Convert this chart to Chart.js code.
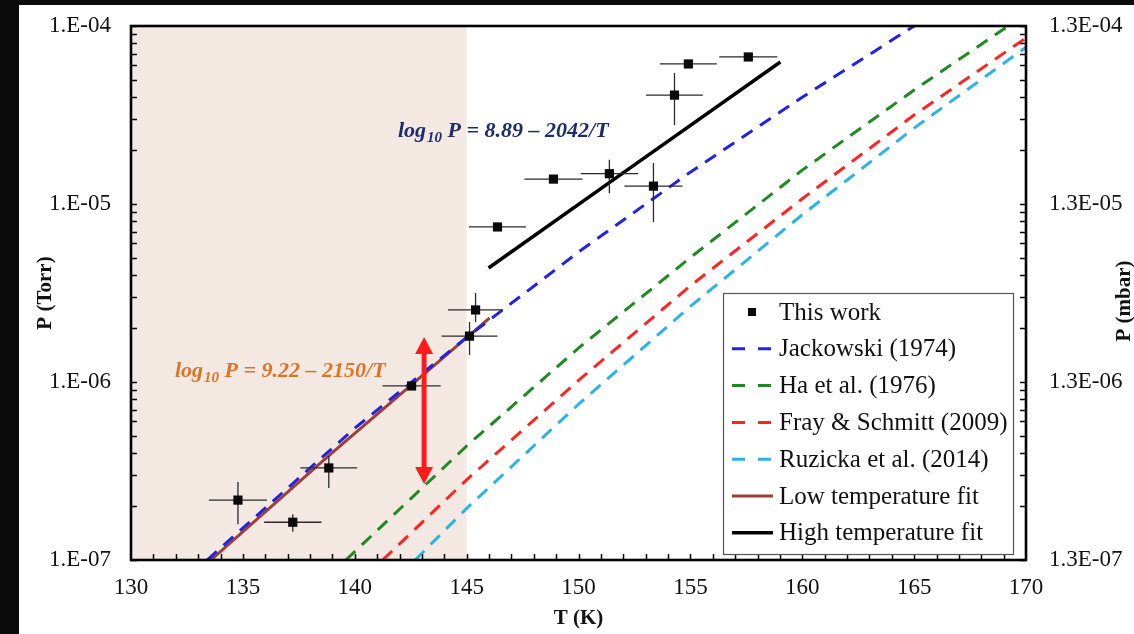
<!DOCTYPE html>
<html>
<head>
<meta charset="utf-8">
<script src="https://cdn.jsdelivr.net/npm/chart.js@4.4.1/dist/chart.umd.min.js"></script>
<style>
  html, body { margin: 0; padding: 0; background: #0b0b0b; }
  #wrap { position: absolute; left: 0; top: 0; width: 1134px; height: 634px; }
  #paper { position: absolute; left: 19px; top: 5px; right: 0; bottom: 0; background: #fff; }
  canvas { position: absolute; left: 0; top: 0; }
</style>
</head>
<body>
<div id="wrap"><div id="paper"></div><canvas id="vpChart" width="1134" height="634"></canvas></div>
<script>
// measured points (This work), P in Torr
const thisWorkT = [134.78, 137.23, 138.84, 142.54, 145.13, 145.4, 146.38, 148.88, 151.38, 153.35, 154.29, 154.91, 157.59];
const thisWorkP = [2.17e-7, 1.63e-7, 3.29e-7, 9.5e-7, 1.81e-6, 2.54e-6, 7.43e-6, 1.38e-5, 1.48e-5, 1.26e-5, 4.09e-5, 6.12e-5, 6.7e-5];
const thisWorkPLow = [1.59e-7, 1.44e-7, 2.54e-7, null, 1.42e-6, 2.17e-6, null, null, 1.15e-5, 7.9e-6, 2.78e-5, null, null];
const thisWorkPHigh = [2.74e-7, 1.81e-7, 3.84e-7, null, 2.17e-6, 3.16e-6, null, null, 1.77e-5, 1.70e-5, 5.44e-5, null, null];
const thisWorkTErr = [1.3, 1.28, 1.27, 1.3, 1.25, 1.23, 1.28, 1.3, 1.28, 1.3, 1.27, 1.27, 1.3];

// literature curves
const jackowskiT = [133.4, 140, 145, 150, 155, 160, 165];
const jackowskiP = [1.0e-7, 5.5e-7, 1.78e-6, 5.37e-6, 1.51e-5, 3.98e-5, 1.0e-4];
const haT = [139.6, 145, 150, 155, 160, 165, 169.2];
const haP = [1.0e-7, 4.37e-7, 1.55e-6, 5.0e-6, 1.55e-5, 4.37e-5, 1.0e-4];
const frayT = [141.25, 145, 150, 155, 160, 165, 170];
const frayP = [1.0e-7, 2.82e-7, 1.02e-6, 3.47e-6, 1.07e-5, 3.16e-5, 8.57e-5];
const ruzickaT = [142.7, 145, 150, 155, 160, 165, 170];
const ruzickaP = [1.0e-7, 1.95e-7, 7.5e-7, 2.66e-6, 8.7e-6, 2.67e-5, 7.6e-5];

// fits
const lowFitT = [133.57, 138.88, 146.03];
const lowFitP = [1.0e-7, 3.89e-7, 2.29e-6];
const highFitT = [145.98, 152.5, 159.02];
const highFitP = [4.37e-6, 1.66e-5, 6.28e-5];

// decade ticks, shaded low-T range, red arrow
const decadeTicks = [1e-7, 1e-6, 1e-5, 1e-4];
const shadeT = [130, 145];
const arrowT = 143.1;
const arrowP = [2.67e-7, 1.79e-6];

const toXY = (ts, ps) => ts.map((t, i) => ({ x: t, y: ps[i] }));
const serif = 'Liberation Serif, Times New Roman, serif';

function lineSet(label, ts, ps, color, dash, width) {
  return {
    type: 'line', label: label, data: toXY(ts, ps),
    borderColor: color, backgroundColor: color, borderWidth: width,
    borderDash: dash, pointRadius: 0, fill: false, tension: 0
  };
}

const datasets = [
  {
    type: 'scatter', label: 'This work', data: toXY(thisWorkT, thisWorkP),
    pointStyle: 'rect', pointRadius: 6.5, backgroundColor: '#0a0a0a', borderColor: '#0a0a0a', borderWidth: 0
  },
  lineSet('Jackowski (1974)', jackowskiT, jackowskiP, '#2222e6', [13, 9], 3),
  lineSet('Ha et al. (1976)', haT, haP, '#1f8a1f', [13, 9], 3),
  lineSet('Fray & Schmitt (2009)', frayT, frayP, '#ff2424', [13, 9], 3),
  lineSet('Ruzicka et al. (2014)', ruzickaT, ruzickaP, '#2bb3e6', [13, 9], 3),
  lineSet('Low temperature fit', lowFitT, lowFitP, '#9c3f38', [], 3),
  lineSet('High temperature fit', highFitT, highFitP, '#000000', [], 3.5)
];

function drawEquation(ctx, x, y, color, rest) {
  ctx.save();
  ctx.fillStyle = color;
  ctx.textBaseline = 'alphabetic';
  ctx.textAlign = 'left';
  ctx.font = 'italic bold 22px ' + serif;
  ctx.fillText('log', x, y);
  let cx = x + ctx.measureText('log').width + 1;
  ctx.font = 'italic bold 15px ' + serif;
  ctx.fillText('10', cx, y + 5);
  cx += ctx.measureText('10').width;
  ctx.font = 'italic bold 22px ' + serif;
  ctx.fillText(rest, cx, y);
  ctx.restore();
}

const figurePlugin = {
  id: 'figurePlugin',
  beforeDatasetsDraw(chart) {
    const { ctx, chartArea, scales } = chart;
    const x0 = scales.x.getPixelForValue(shadeT[0]);
    const x1 = scales.x.getPixelForValue(shadeT[1]);
    ctx.save();
    ctx.fillStyle = '#f4e9e2';
    ctx.fillRect(x0, chartArea.top, x1 - x0, chartArea.bottom - chartArea.top);
    ctx.restore();
  },
  beforeDatasetDraw(chart, args) {
    if (args.index !== 0) return;
    const { ctx, scales } = chart;
    ctx.save();
    ctx.strokeStyle = '#2a2a2a';
    ctx.lineWidth = 1.3;
    thisWorkT.forEach((t, i) => {
      const px = scales.x.getPixelForValue(t);
      const py = scales.y.getPixelForValue(thisWorkP[i]);
      ctx.beginPath();
      ctx.moveTo(scales.x.getPixelForValue(t - thisWorkTErr[i]), py);
      ctx.lineTo(scales.x.getPixelForValue(t + thisWorkTErr[i]), py);
      if (thisWorkPLow[i] !== null) {
        ctx.moveTo(px, scales.y.getPixelForValue(thisWorkPLow[i]));
        ctx.lineTo(px, scales.y.getPixelForValue(thisWorkPHigh[i]));
      }
      ctx.stroke();
    });
    ctx.restore();
  },
  afterDatasetsDraw(chart) {
    const { ctx, scales } = chart;
    // red double arrow
    const ax = scales.x.getPixelForValue(arrowT);
    const yb = scales.y.getPixelForValue(arrowP[0]);
    const yt = scales.y.getPixelForValue(arrowP[1]);
    const hl = 17, hw = 9;
    ctx.save();
    ctx.fillStyle = '#ff1a1a';
    ctx.strokeStyle = '#ff1a1a';
    ctx.lineWidth = 5;
    ctx.beginPath();
    ctx.moveTo(ax, yt + hl - 1);
    ctx.lineTo(ax, yb - hl + 1);
    ctx.stroke();
    ctx.beginPath();
    ctx.moveTo(ax, yt); ctx.lineTo(ax - hw, yt + hl); ctx.lineTo(ax + hw, yt + hl); ctx.closePath();
    ctx.moveTo(ax, yb); ctx.lineTo(ax - hw, yb - hl); ctx.lineTo(ax + hw, yb - hl); ctx.closePath();
    ctx.fill();
    ctx.restore();

    drawEquation(ctx, 175, 377, '#e07322', ' P = 9.22 \u2013 2150/T');
    drawEquation(ctx, 398, 137, '#1c2c6c', ' P = 8.89 \u2013 2042/T');
  },
  afterDraw(chart) {
    const { ctx, chartArea, scales } = chart;
    const { left, right, top, bottom } = chartArea;
    ctx.save();
    // inner tick marks
    ctx.strokeStyle = '#000';
    ctx.lineWidth = 1.5;
    ctx.beginPath();
    for (let d = -7; d <= -4; d++) {
      for (let m = 1; m <= 9; m++) {
        const v = m * Math.pow(10, d);
        if (v > 1.0001e-4) break;
        const py = Math.round(scales.y.getPixelForValue(v)) + 0.5;
        ctx.moveTo(left, py); ctx.lineTo(left + 6, py);
        ctx.moveTo(right, py); ctx.lineTo(right - 6, py);
      }
    }
    for (let t = 131; t < 170; t++) {
      const px = Math.round(scales.x.getPixelForValue(t)) + 0.5;
      ctx.moveTo(px, bottom); ctx.lineTo(px, bottom - 6);
    }
    ctx.stroke();
    // plot frame
    ctx.lineWidth = 2.6;
    ctx.strokeRect(left, top, right - left, bottom - top);

    // axis titles
    ctx.fillStyle = '#111';
    ctx.font = 'bold 21px ' + serif;
    ctx.textAlign = 'center';
    ctx.textBaseline = 'middle';
    ctx.fillText('T (K)', (left + right) / 2, 619);
    ctx.save();
    ctx.translate(46, (top + bottom) / 2);
    ctx.rotate(-Math.PI / 2);
    ctx.fillText('P (Torr)', 0, 0);
    ctx.restore();
    ctx.save();
    ctx.translate(1125, (top + bottom) / 2 + 8);
    ctx.rotate(-Math.PI / 2);
    ctx.fillText('P (mbar)', 0, 0);
    ctx.restore();

    // legend box
    const bx = 723, by = 293, bw = 290, bh = 261;
    ctx.fillStyle = '#fff';
    ctx.fillRect(bx, by, bw, bh);
    ctx.strokeStyle = '#555';
    ctx.lineWidth = 1.2;
    ctx.strokeRect(bx + 0.5, by + 0.5, bw, bh);
    ctx.font = '25px ' + serif;
    ctx.textAlign = 'left';
    ctx.textBaseline = 'middle';
    chart.data.datasets.forEach((ds, i) => {
      const ry = by + 19 + i * 36.8;
      if (ds.type === 'scatter') {
        ctx.fillStyle = ds.backgroundColor;
        ctx.fillRect(748, ry - 4, 8, 8);
      } else {
        ctx.strokeStyle = ds.borderColor;
        ctx.lineWidth = ds.borderWidth;
        ctx.setLineDash(ds.borderDash.length ? [13, 13] : []);
        ctx.beginPath();
        ctx.moveTo(732, ry);
        ctx.lineTo(773, ry);
        ctx.stroke();
        ctx.setLineDash([]);
      }
      ctx.fillStyle = '#111';
      ctx.fillText(ds.label, 779, ry + 1);
    });
    ctx.restore();
  }
};

const decadeLabel = (prefix) => (v) => {
  const e = Math.round(Math.log10(v));
  return prefix + 'E-' + String(-e).padStart(2, '0');
};

// keep the plot box fixed: no automatic label overflow padding
const fixVertical = (w) => (s) => { s.width = w; s.paddingTop = 0; s.paddingBottom = 0; };

const ctx = document.getElementById('vpChart').getContext('2d');
new Chart(ctx, {
  type: 'scatter',
  data: { datasets: datasets },
  options: {
    responsive: false,
    animation: false,
    layout: { padding: { top: 26, left: 0, right: 0, bottom: 0 } },
    plugins: {
      legend: { display: false },
      tooltip: { enabled: false }
    },
    scales: {
      x: {
        type: 'linear', position: 'bottom', min: 130, max: 170,
        grid: { display: false, drawTicks: false },
        border: { display: false },
        ticks: { stepSize: 5, padding: 14, color: '#111', font: { family: serif, size: 23 } },
        afterFit: (s) => { s.height = 74; s.paddingLeft = 0; s.paddingRight = 0; }
      },
      y: {
        type: 'logarithmic', position: 'left', min: 1e-7, max: 1e-4,
        grid: { display: false, drawTicks: false },
        border: { display: false },
        afterBuildTicks: (s) => { s.ticks = decadeTicks.map(v => ({ value: v })); },
        ticks: { padding: 20, color: '#111', font: { family: serif, size: 23 }, callback: decadeLabel('1.') },
        afterFit: fixVertical(131)
      },
      y2: {
        type: 'logarithmic', position: 'right', min: 1e-7, max: 1e-4,
        grid: { display: false, drawTicks: false },
        border: { display: false },
        afterBuildTicks: (s) => { s.ticks = decadeTicks.map(v => ({ value: v })); },
        ticks: { padding: 23, color: '#111', font: { family: serif, size: 23 }, callback: decadeLabel('1.3') },
        afterFit: fixVertical(108)
      }
    }
  },
  plugins: [figurePlugin]
});
</script>
</body>
</html>
